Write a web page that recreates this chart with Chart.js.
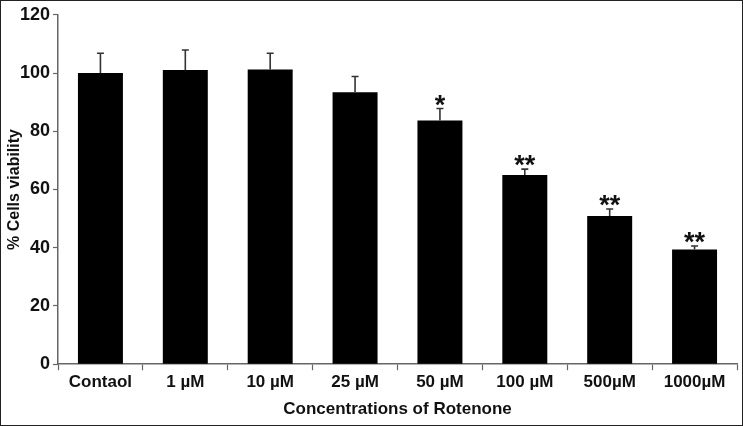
<!DOCTYPE html>
<html>
<head>
<meta charset="utf-8">
<script src="https://cdn.jsdelivr.net/npm/chart.js@4"></script>
<style>
  html, body { margin: 0; padding: 0; background: #fff; }
  #wrap { width: 743px; height: 426px; box-sizing: border-box; border: 1.5px solid #222; position: relative; }
  canvas { display: block; }
</style>
</head>
<body>
<div id="wrap"><canvas id="c" width="740" height="423"></canvas></div>
<script>
const categories = ["Contaol", "1 µM", "10 µM", "25 µM", "50 µM", "100 µM", "500µM", "1000µM"];
const viability = [100, 101, 101.2, 93.4, 83.7, 65, 50.9, 39.4];
const errorUpper = [6.8, 6.9, 5.6, 5.4, 4.1, 2.0, 2.4, 1.2];
const significance = ["", "", "", "", "*", "**", "**", "**"];
const yTicks = [0, 20, 40, 60, 80, 100, 120];

const FONT = "'Liberation Sans', Arial, sans-serif";

const errorBarPlugin = {
  id: 'errorBars',
  afterDatasetsDraw(chart) {
    const ctx = chart.ctx;
    const meta = chart.getDatasetMeta(0);
    const y = chart.scales.y;
    ctx.save();
    meta.data.forEach((bar, i) => {
      const x = bar.x;
      const yTop = y.getPixelForValue(viability[i] + errorUpper[i]);
      const yBase = y.getPixelForValue(viability[i]);
      ctx.strokeStyle = '#333';
      ctx.lineWidth = 1.6;
      ctx.beginPath();
      ctx.moveTo(x, yBase);
      ctx.lineTo(x, yTop);
      ctx.moveTo(x - 3.5, yTop);
      ctx.lineTo(x + 3.5, yTop);
      ctx.stroke();
      if (significance[i]) {
        ctx.fillStyle = '#111';
        ctx.font = "bold 27px " + FONT;
        ctx.textAlign = 'center';
        ctx.textBaseline = 'alphabetic';
        ctx.fillText(significance[i], x, yTop + 5);
      }
    });
    ctx.restore();
  }
};

new Chart(document.getElementById('c'), {
  type: 'bar',
  data: {
    labels: categories,
    datasets: [{
      data: viability,
      backgroundColor: '#000',
      borderColor: '#222',
      borderWidth: 0,
      categoryPercentage: 1.0,
      barPercentage: 0.53
    }]
  },
  options: {
    responsive: false,
    animation: false,
    devicePixelRatio: 1,
    layout: { padding: { top: 0, right: 4, left: 0, bottom: 4 } },
    plugins: { legend: { display: false }, tooltip: { enabled: false } },
    scales: {
      x: {
        grid: { display: true, drawOnChartArea: false, offset: true, tickLength: 6, color: '#666', tickWidth: 1.2 },
        border: { color: '#666', width: 1.5 },
        ticks: { color: '#111', font: { family: FONT, size: 17, weight: 'bold' }, padding: 2, maxRotation: 0, autoSkip: false },
        title: { display: true, text: 'Concentrations of Rotenone', color: '#111', font: { family: FONT, size: 17, weight: 'bold' }, padding: { top: 5, bottom: 0 } }
      },
      y: {
        min: 0, max: 120,
        afterBuildTicks: (scale) => { scale.ticks = yTicks.map(v => ({ value: v })); },
        afterFit: (scale) => { scale.width = 57; },
        grid: { display: true, drawOnChartArea: false, tickLength: 5, color: '#666', tickWidth: 1.2 },
        border: { color: '#666', width: 1.5 },
        ticks: { color: '#111', font: { family: FONT, size: 18, weight: 'bold' }, padding: 3 },
        title: { display: true, text: '% Cells viability', color: '#111', font: { family: FONT, size: 16, weight: 'bold' }, padding: { top: 4, bottom: 0 } }
      }
    }
  },
  plugins: [errorBarPlugin]
});
</script>
</body>
</html>
